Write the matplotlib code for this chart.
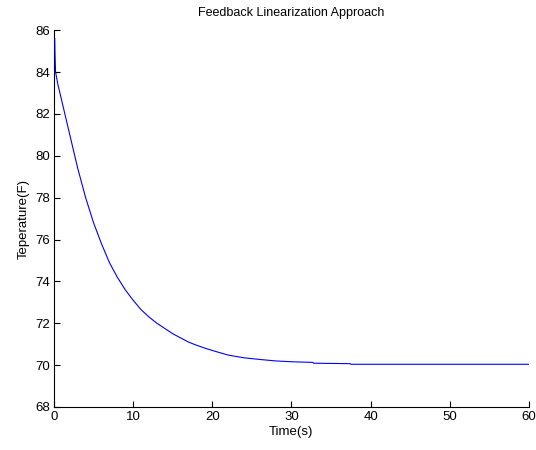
import matplotlib
matplotlib.use("Agg")
import matplotlib.pyplot as plt

# readings
time_s = [0.1, 0.13, 0.2, 0.5, 1, 1.5, 2, 2.5, 3, 3.5, 4, 4.5, 5, 5.5, 6, 6.5,
          7, 7.5, 8, 9, 10, 11, 12, 13, 14, 15, 16, 17, 18, 19, 20,
          22, 24, 26, 28, 30, 32.7, 32.8, 37.4, 37.5, 60]
temp_f = [85.6, 84.9, 84.0, 83.4, 82.6, 81.8, 81.0, 80.2, 79.4, 78.7, 78.0,
          77.4, 76.8, 76.3, 75.8, 75.35, 74.9, 74.55, 74.2, 73.6, 73.1, 72.65,
          72.3, 72.0, 71.75, 71.5, 71.3, 71.1, 70.95, 70.82, 70.7, 70.48,
          70.35, 70.27, 70.2, 70.16, 70.13, 70.09, 70.07, 70.04, 70.04]
x_ticks = [0, 10, 20, 30, 40, 50, 60]
y_ticks = [68, 70, 72, 74, 76, 78, 80, 82, 84, 86]

plt.rcParams['font.family'] = ['Liberation Sans', 'DejaVu Sans']
plt.rcParams['font.size'] = 9.5

fig = plt.figure(figsize=(5.36, 4.5), dpi=100)
ax = fig.add_axes([0.1007, 0.0956, 0.886, 0.8374])

ax.plot(time_s, temp_f, color='#0000ff', linewidth=0.8, zorder=5)

ax.set_xlim(0, 60)
ax.set_ylim(68, 86)
ax.set_xticks(x_ticks)
ax.set_yticks(y_ticks)
ax.tick_params(direction='in', length=4, width=0.8, colors='black', pad=3)
ax.spines['top'].set_visible(False)
ax.spines['right'].set_visible(False)
for s in ['left', 'bottom']:
    ax.spines[s].set_linewidth(0.8)

ax.set_title('Feedback Linearization Approach', fontsize=9, pad=10)
ax.set_xlabel('Time(s)', labelpad=2)
ax.set_ylabel('Teperature(F)', labelpad=4)

fig.savefig('out.png', dpi=100)
